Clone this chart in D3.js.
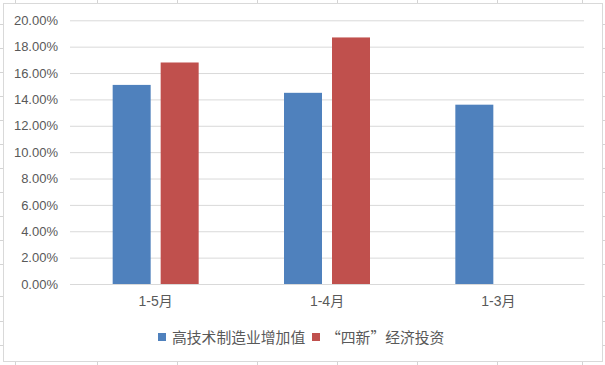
<!DOCTYPE html>
<html><head><meta charset="utf-8">
<script src="https://cdn.jsdelivr.net/npm/d3@7"></script>
<style>
html,body{margin:0;padding:0;background:#fff;}
svg{display:block;}
</style></head>
<body>
<svg id="c" width="605" height="365"></svg>
<script>
const categories = ["1-5月", "1-4月", "1-3月"];
const seriesNames = ["高技术制造业增加值", "“四新”经济投资"];
const highTech = [15.1, 14.5, 13.6];
const fourNew = [16.8, 18.7, null];
const yTicks = [0, 2, 4, 6, 8, 10, 12, 14, 16, 18, 20];
const colors = ["#4f81bd", "#c0504d"];

const svg = d3.select("#c");
const W = 605, H = 365;
const m = {left: 70, right: 21, top: 20.3, bottom: 81};
const x0 = d3.scaleBand().domain(categories).range([m.left, W - m.right]).paddingInner(0).paddingOuter(0);
const y = d3.scaleLinear().domain([0, 20]).range([284, 20.3]);

// spreadsheet background ticks
const bg = svg.append("g").attr("stroke", "#d4d4d4").attr("stroke-width", 1);
[15, 97, 177, 257, 337, 417, 497, 582].forEach(xv => {
  bg.append("line").attr("x1", xv + 0.5).attr("x2", xv + 0.5).attr("y1", 0).attr("y2", 3);
  bg.append("line").attr("x1", xv + 0.5).attr("x2", xv + 0.5).attr("y1", 362).attr("y2", 365);
});
[24, 48, 72, 96, 120, 144, 168, 192, 216, 240, 264, 296, 321, 345].forEach(yv => {
  bg.append("line").attr("x1", 0).attr("x2", 3).attr("y1", yv + 0.5).attr("y2", yv + 0.5);
  bg.append("line").attr("x1", 603).attr("x2", 605).attr("y1", yv + 0.5).attr("y2", yv + 0.5);
});
// chart frame
svg.append("rect").attr("x", 3.5).attr("y", 3.5).attr("width", 599).attr("height", 358)
  .attr("fill", "#fff").attr("stroke", "#d9d9d9");

// gridlines
const yAxis = d3.axisLeft(y).tickValues(yTicks).tickSize(-(W - m.right - m.left)).tickPadding(12)
  .tickFormat(d => d.toFixed(2) + "%");
const ga = svg.append("g").attr("transform", `translate(${m.left},0)`).call(yAxis);
ga.select(".domain").remove();
ga.selectAll(".tick line").attr("stroke", "#d9d9d9");
ga.selectAll(".tick text").attr("fill", "#595959")
  .style("font-family", "'Liberation Sans', Arial, sans-serif").style("font-size", "13px");

// x axis
const xAxis = d3.axisBottom(x0).tickSize(0).tickPadding(12);
const gx = svg.append("g").attr("transform", `translate(0,${y(0)})`).call(xAxis);
gx.select(".domain").attr("stroke", "#d9d9d9");
gx.selectAll(".tick text").attr("fill", "#595959")
  .style("font-family", "'Liberation Sans', 'Noto Sans CJK SC', sans-serif").style("font-size", "14px");

// bars
const barW = 38, gap = 10;
const data = [highTech, fourNew];
data.forEach((vals, si) => {
  svg.append("g").selectAll("rect").data(categories.map((c, i) => ({c, v: vals[i]})).filter(d => d.v != null))
    .join("rect")
    .attr("x", d => x0(d.c) + x0.bandwidth() / 2 - (barW * 2 + gap) / 2 + si * (barW + gap))
    .attr("width", barW)
    .attr("y", d => y(d.v))
    .attr("height", d => y(0) - y(d.v))
    .attr("fill", colors[si]);
});

// legend
const lg = svg.append("g").style("font-family", "'Noto Sans CJK SC', sans-serif").style("font-size", "14.8px");
const legendX = [158, 312];
seriesNames.forEach((n, i) => {
  lg.append("rect").attr("x", legendX[i]).attr("y", 333).attr("width", 8).attr("height", 8).attr("fill", colors[i]);
  lg.append("text").attr("x", legendX[i] + 14).attr("y", 338).attr("dy", "0.35em")
    .attr("fill", "#595959").text(n);
});
</script>
</body></html>
